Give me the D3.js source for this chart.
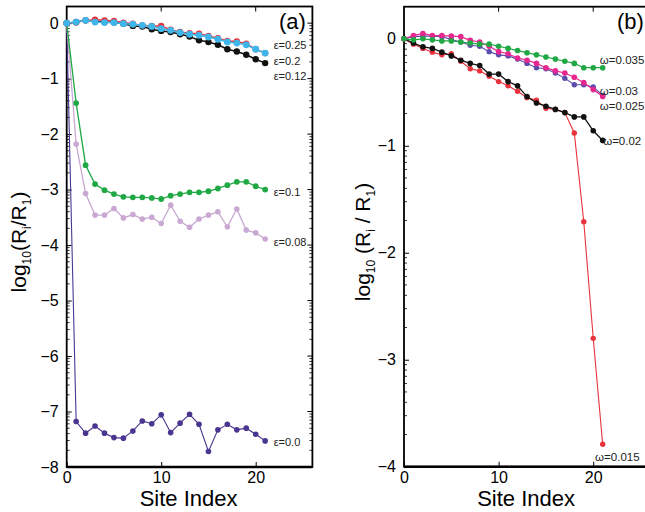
<!DOCTYPE html>
<html>
<head>
<meta charset="utf-8">
<script src="https://cdn.jsdelivr.net/npm/d3@7"></script>
<style>
  body { margin: 0; background: #fff; }
  svg text { font-family: "Liberation Sans", Arial, Helvetica, sans-serif; }
</style>
</head>
<body>
<svg width="645" height="512"></svg>
<script>

// site index 0..21
var sites = d3.range(0, 22);

// panel (a): log10(Ri/R1) for different epsilon
var epsLabels = ['ε=0.25', 'ε=0.2', 'ε=0.12', 'ε=0.1', 'ε=0.08', 'ε=0.0'];
var eps025 = [0, 0.01, 0.05, 0.06, 0.05, 0.04, 0.01, -0.01, -0.04, -0.05, -0.05, -0.12, -0.16, -0.18, -0.19, -0.23, -0.27, -0.32, -0.33, -0.37, -0.47, -0.54];
var eps020 = [0, 0.02, 0.05, 0.02, 0.01, 0.01, -0.01, -0.02, -0.04, -0.06, -0.10, -0.13, -0.17, -0.20, -0.22, -0.25, -0.29, -0.34, -0.36, -0.39, -0.47, -0.54];
var eps012 = [0, 0.02, 0.05, 0.03, 0.02, 0.01, -0.01, -0.05, -0.06, -0.11, -0.14, -0.16, -0.20, -0.24, -0.31, -0.34, -0.39, -0.47, -0.51, -0.57, -0.65, -0.72];
var eps010 = [0, -1.44, -2.56, -2.90, -3.01, -3.08, -3.13, -3.14, -3.14, -3.15, -3.17, -3.11, -3.08, -3.05, -3.05, -3.03, -2.98, -2.92, -2.86, -2.86, -2.94, -3.00];
var eps008 = [0, -2.18, -3.07, -3.46, -3.46, -3.34, -3.51, -3.45, -3.53, -3.50, -3.61, -3.28, -3.57, -3.68, -3.53, -3.46, -3.40, -3.67, -3.35, -3.73, -3.78, -3.89];
var eps000 = [0, -7.18, -7.39, -7.26, -7.39, -7.47, -7.48, -7.35, -7.17, -7.22, -7.06, -7.38, -7.21, -7.05, -7.23, -7.72, -7.33, -7.23, -7.33, -7.30, -7.41, -7.53];

// panel (b): log10(Ri/R1) for different omega
var omLabels = ['ω=0.035', 'ω=0.03', 'ω=0.025', 'ω=0.02', 'ω=0.015'];
var om035 = [0, -0.01, 0, -0.01, -0.02, -0.02, -0.03, -0.04, -0.05, -0.05, -0.07, -0.09, -0.11, -0.13, -0.15, -0.17, -0.19, -0.21, -0.23, -0.27, -0.27, -0.27];
var om030 = [0, 0.03, 0.05, 0.03, 0.03, 0.025, 0.02, -0.015, -0.03, -0.07, -0.12, -0.14, -0.18, -0.20, -0.23, -0.27, -0.30, -0.32, -0.36, -0.41, -0.475, -0.54];
var om025 = [0, 0.02, 0.025, 0.025, 0.02, -0.006, -0.03, -0.06, -0.07, -0.12, -0.15, -0.16, -0.19, -0.23, -0.27, -0.28, -0.32, -0.37, -0.43, -0.43, -0.45, -0.53];
var om020 = [0, -0.04, -0.075, -0.09, -0.125, -0.16, -0.20, -0.23, -0.25, -0.33, -0.33, -0.40, -0.44, -0.54, -0.60, -0.63, -0.66, -0.69, -0.73, -0.73, -0.86, -0.95];
var om015 = [0, -0.05, -0.09, -0.125, -0.15, -0.14, -0.21, -0.28, -0.30, -0.35, -0.40, -0.44, -0.49, -0.55, -0.575, -0.65, -0.66, -0.69, -0.88, -1.71, -2.80, -3.79];

var xTicks = [0, 10, 20];
var yTicksA = [0, -1, -2, -3, -4, -5, -6, -7, -8];
var yTicksB = [0, -1, -2, -3, -4];

var svg = d3.select('svg');

var xA = d3.scaleLinear().domain([0, 26]).range([66.7, 312.4]);
var yA = d3.scaleLinear().domain([-8, 0.3]).range([467, 6.5]);
var xB = d3.scaleLinear().domain([0, 26]).range([404, 650]);
var yB = d3.scaleLinear().domain([-4, 0.3]).range([466.7, 6.7]);

function minorTicks(domain) {
    var out = [];
    for (var k = Math.floor(domain[0]); k < domain[1]; k++) {
        for (var m = 2; m <= 9; m++) {
            var v = k + Math.log10(m);
            if (v > domain[0] && v < domain[1]) out.push(v);
        }
    }
    return out;
}

function drawFrame(x, y, yTicks, rightAxis) {
    var x0 = x.range()[0], x1 = x.range()[1];
    var y0 = y.range()[0], y1 = y.range()[1];
    var g = svg.append('g');

    // left axis, ticks inside
    g.append('g')
        .attr('transform', 'translate(' + x0 + ',0)')
        .call(d3.axisLeft(y).tickValues(yTicks).tickSize(-5).tickPadding(8)
            .tickFormat(function(d) { return d == 0 ? '0' : '\u2212' + Math.abs(d); }))
        .call(function(s) {
            s.select('.domain').remove();
            s.selectAll('line').attr('stroke', '#000');
            s.selectAll('text').attr('font-size', 16).attr('fill', '#000')
                .attr('font-family', '"Liberation Sans", Arial, sans-serif');
        });
    g.selectAll('.minl')
        .data(minorTicks(y.domain()))
        .enter().append('line')
        .attr('x1', x0).attr('x2', x0 + 3)
        .attr('y1', function(d) { return y(d); })
        .attr('y2', function(d) { return y(d); })
        .attr('stroke', '#000').attr('stroke-width', 0.8);

    if (rightAxis) {
        g.selectAll('.majr')
            .data(yTicks)
            .enter().append('line')
            .attr('x1', x1).attr('x2', x1 - 5)
            .attr('y1', function(d) { return y(d); })
            .attr('y2', function(d) { return y(d); })
            .attr('stroke', '#000');
        g.selectAll('.minr')
            .data(minorTicks(y.domain()))
            .enter().append('line')
            .attr('x1', x1).attr('x2', x1 - 3)
            .attr('y1', function(d) { return y(d); })
            .attr('y2', function(d) { return y(d); })
            .attr('stroke', '#000').attr('stroke-width', 0.8);
    }

    // bottom axis
    g.append('g')
        .attr('transform', 'translate(0,' + y0 + ')')
        .call(d3.axisBottom(x).tickValues(xTicks).tickSize(-5).tickPadding(5))
        .call(function(s) {
            s.select('.domain').remove();
            s.selectAll('line').attr('stroke', '#000');
            s.selectAll('text').attr('font-size', 16).attr('fill', '#000')
                .attr('font-family', '"Liberation Sans", Arial, sans-serif');
        });
    // top ticks
    g.selectAll('.topt')
        .data(xTicks.slice(1))
        .enter().append('line')
        .attr('x1', function(d) { return x(d); })
        .attr('x2', function(d) { return x(d); })
        .attr('y1', y1).attr('y2', y1 + 5)
        .attr('stroke', '#000');

    g.append('rect')
        .attr('x', x0).attr('y', y1)
        .attr('width', x1 - x0).attr('height', y0 - y1)
        .attr('fill', 'none')
        .attr('stroke', '#000')
        .attr('stroke-width', 1.8);
    g.append('line')
        .attr('x1', x0).attr('x2', x1)
        .attr('y1', y0).attr('y2', y0)
        .attr('stroke', '#000').attr('stroke-width', 2.4);
    return g;
}

function drawSeries(x, y, values, color, lw, r) {
    var line = d3.line()
        .x(function(d, i) { return x(sites[i]); })
        .y(function(d) { return y(d); });
    var g = svg.append('g');
    g.append('path')
        .datum(values)
        .attr('d', line)
        .attr('fill', 'none')
        .attr('stroke', color)
        .attr('stroke-width', lw);
    g.selectAll('circle')
        .data(values)
        .enter()
        .append('circle')
        .attr('cx', function(d, i) { return x(sites[i]); })
        .attr('cy', function(d) { return y(d); })
        .attr('r', r)
        .attr('fill', color);
}

drawFrame(xA, yA, yTicksA, true);
drawFrame(xB, yB, yTicksB, false);

// panel (a)
drawSeries(xA, yA, eps000, '#4a3590', 1.1, 2.8);
drawSeries(xA, yA, eps008, '#c9a9d3', 1.3, 2.8);
drawSeries(xA, yA, eps010, '#1fa843', 1.3, 2.9);
drawSeries(xA, yA, eps012, '#111111', 1.5, 3.2);
drawSeries(xA, yA, eps025, '#e8323c', 1.5, 3.2);
drawSeries(xA, yA, eps020, '#3fb6ea', 1.5, 3.4);

// panel (b)
drawSeries(xB, yB, om015, '#e8323c', 1.1, 2.7);
drawSeries(xB, yB, om020, '#111111', 1.3, 2.8);
drawSeries(xB, yB, om025, '#5b4caa', 1.1, 2.7);
drawSeries(xB, yB, om030, '#e6278f', 1.2, 2.8);
drawSeries(xB, yB, om035, '#1fa843', 1.2, 2.8);

// curve labels (anchor: site index, value)
var epsAnchors = [[21.9, -0.40], [21.9, -0.69], [21.9, -0.96], [21.9, -3.05], [21.9, -3.95], [21.9, -7.56]];
svg.selectAll('.epsl')
    .data(epsLabels)
    .enter().append('text')
    .attr('x', function(d, i) { return xA(epsAnchors[i][0]); })
    .attr('y', function(d, i) { return yA(epsAnchors[i][1]); })
    .attr('dy', '0.35em')
    .attr('font-size', 11)
    .attr('fill', '#222')
    .text(function(d) { return d; });

var omAnchors = [[20.7, -0.198], [20.7, -0.485], [20.7, -0.628], [21.05, -0.952], [20.2, -3.906]];
svg.selectAll('.oml')
    .data(omLabels)
    .enter().append('text')
    .attr('x', function(d, i) { return xB(omAnchors[i][0]); })
    .attr('y', function(d, i) { return yB(omAnchors[i][1]); })
    .attr('dy', '0.35em')
    .attr('font-size', 11.5)
    .attr('fill', '#222')
    .text(function(d) { return d; });

// panel letters
svg.append('text').attr('x', 279).attr('y', 29).attr('font-size', 22).text('(a)');
svg.append('text').attr('x', 617).attr('y', 29).attr('font-size', 22).text('(b)');

// axis titles
svg.append('text').attr('x', xA(12.9)).attr('y', 506)
    .attr('text-anchor', 'middle').attr('font-size', 22).text('Site Index');
svg.append('text').attr('x', xB(12.9)).attr('y', 506)
    .attr('text-anchor', 'middle').attr('font-size', 22).text('Site Index');

function yTitle(tx, ty, parts) {
    var t = svg.append('text')
        .attr('transform', 'translate(' + tx + ',' + ty + ') rotate(-90)')
        .attr('text-anchor', 'middle')
        .attr('font-size', 21);
    parts.forEach(function(p) {
        t.append('tspan')
            .attr('font-size', p[1] ? 12 : 21)
            .attr('dy', p[1] ? 5 : (p[2] ? -5 : 0))
            .text(p[0]);
    });
}
// [text, isSub, backUp]
yTitle(26, 242, [['log'], ['10', 1], ['(R', 0, 1], ['i', 1], ['/R', 0, 1], ['1', 1], [')', 0, 1]]);
yTitle(370, 242, [['log'], ['10', 1], [' (R', 0, 1], ['i', 1], [' / R', 0, 1], ['1', 1], [')', 0, 1]]);

</script>
</body>
</html>
